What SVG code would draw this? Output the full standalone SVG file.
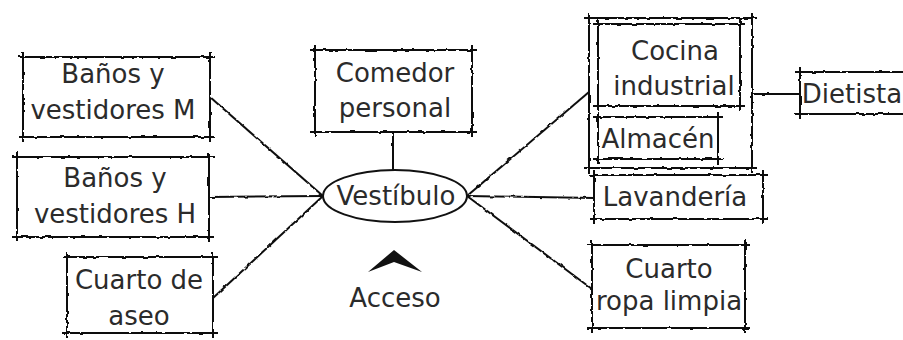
<svg xmlns="http://www.w3.org/2000/svg" width="903" height="340" viewBox="0 0 903 340">
<defs>
<filter id="rough" filterUnits="userSpaceOnUse" x="0" y="0" width="903" height="340">
<feTurbulence type="fractalNoise" baseFrequency="0.18" numOctaves="1" seed="4" result="n"/>
<feDisplacementMap in="SourceGraphic" in2="n" scale="3" xChannelSelector="R" yChannelSelector="G"/>
</filter>
<style>
.box{fill:none;stroke:#111;stroke-width:2;filter:url(#rough)}
.ln{fill:none;stroke:#111;stroke-width:2;filter:url(#rough)}
.el{fill:#fff;stroke:#111;stroke-width:2}
text{font-family:"DejaVu Sans",sans-serif;font-size:26px;fill:#2b2b2b;text-anchor:middle}
</style>
</defs>
<rect width="903" height="340" fill="#fff"/>
<g id="connectors">
<path class="ln" d="M210 97 L323 196"/>
<path class="ln" d="M209 197 L323 196"/>
<path class="ln" d="M213 298 L323 196"/>
<path class="ln" d="M393 132 L393 170"/>
<path class="ln" d="M467 196 L589 92"/>
<path class="ln" d="M467 196 L594 198"/>
<path class="ln" d="M467 196 L592 289"/>
<path class="ln" d="M752 94 L800 94"/>
</g>
<g id="banos-m">
<path class="box" d="M18 57H215M210 52V142M215 137H18M23 142V52"/>
<text x="113" y="83">Baños y</text>
<text x="113" y="119">vestidores M</text>
</g>
<g id="banos-h">
<path class="box" d="M12 157H214M209 152V242M214 237H12M17 242V152"/>
<text x="115" y="187">Baños y</text>
<text x="115" y="223">vestidores H</text>
</g>
<g id="cuarto-aseo">
<path class="box" d="M62 257H218M213 252V338M218 333H62M67 338V252"/>
<text x="139" y="289">Cuarto de</text>
<text x="139" y="325">aseo</text>
</g>
<g id="comedor">
<path class="box" d="M310 50H477M472 45V137M477 132H310M315 137V45"/>
<text x="395" y="82">Comedor</text>
<text x="395" y="117">personal</text>
</g>
<g id="vestibulo">
<ellipse class="el" cx="395" cy="196" rx="72" ry="26"/>
<text x="396" y="205">Vestíbulo</text>
</g>
<g id="acceso">
<path d="M394 250 L422 272 L394 262 L368 272 Z" fill="#111"/>
<text x="395" y="307">Acceso</text>
</g>
<g id="cocina-grupo">
<path class="box" d="M584 18H757M752 13V173M757 168H584M589 173V13"/>
</g>
<g id="cocina">
<path class="box" d="M593 24H745M740 19V111M745 106H593M598 111V19"/>
<text x="675" y="60">Cocina</text>
<text x="674" y="95">industrial</text>
</g>
<g id="almacen">
<path class="box" d="M593 117H723M718 112V164M723 159H593M598 164V112"/>
<text x="658" y="148">Almacén</text>
</g>
<g id="dietista">
<path class="box" d="M795 72H915M800 67V119M915 114H795"/>
<text x="852" y="103">Dietista</text>
</g>
<g id="lavanderia">
<path class="box" d="M589 175H768M763 170V224M768 219H589M594 224V170"/>
<text x="675" y="206">Lavandería</text>
</g>
<g id="ropa-limpia">
<path class="box" d="M587 245H750M745 240V333M750 328H587M592 333V240"/>
<text x="669" y="278">Cuarto</text>
<text x="669" y="310">ropa limpia</text>
</g>
</svg>
